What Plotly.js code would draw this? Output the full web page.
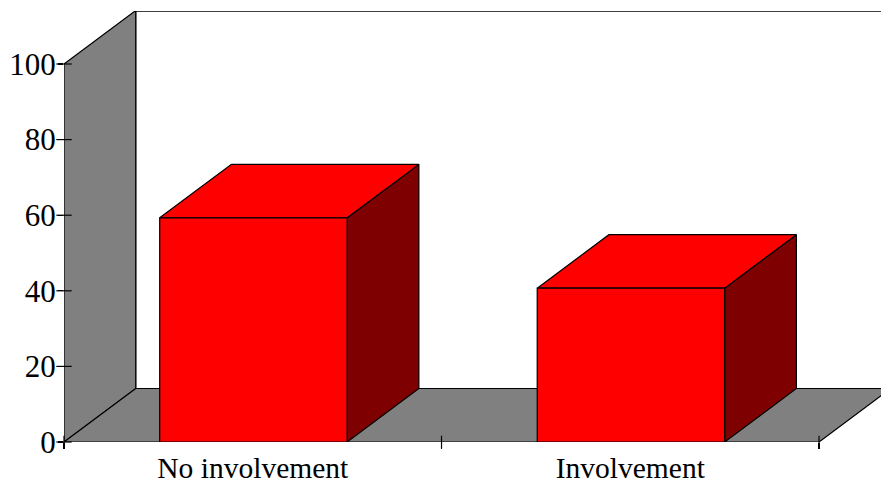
<!DOCTYPE html>
<html>
<head>
<meta charset="utf-8">
<script src="https://cdn.plot.ly/plotly-3.0.1.min.js"></script>
<style>html,body{margin:0;padding:0;background:#fff}#chart{width:881px;height:485px}</style>
</head>
<body>
<div id="chart"></div>
<script>
// Share of respondents per group
const categories = ["No involvement", "Involvement"];
const shares = [59.3, 40.7];
const yTicks = [0, 20, 40, 60, 80, 100];
const xBounds = [0, 1, 2];

// Oblique projection: how far the full depth shifts a point, in axis units
const depthX = 0.19;
const depthY = 14.15;
const barLeftGap = 0.2535;
const barWidth = 0.4965;
const xEnd = 817.5 / 377.75;
const yEnd = 431 / 3.78;

const GREY = "#808080", RED = "#ff0000", DARK = "#7f0000";
const EDGE = {color: "#000", width: 1.2};

function poly(xs, ys, fill) {
  return {
    type: "scatter", mode: "lines", x: xs.concat(xs[0]), y: ys.concat(ys[0]),
    fill: "toself", fillcolor: fill, line: EDGE,
    hoverinfo: "skip", showlegend: false
  };
}

const traces = [
  // back wall edges
  {type: "scatter", mode: "lines", x: [depthX, depthX, xEnd], y: [depthY, yEnd - 0.05, yEnd - 0.05],
   line: EDGE, hoverinfo: "skip", showlegend: false},
  // side wall
  poly([0, 0, depthX, depthX], [0, 100, 100 + depthY, depthY], GREY),
  // floor
  poly([0, depthX, 2 + depthX, 2], [0, depthY, depthY, 0], GREY)
];

// One box per category: side face, top face, front face
shares.forEach((v, i) => {
  const l = i + barLeftGap, r = l + barWidth;
  traces.push(poly([r, r + depthX, r + depthX, r], [0, depthY, v + depthY, v], DARK));
  traces.push(poly([l, l + depthX, r + depthX, r], [v, v + depthY, v + depthY, v], RED));
  traces.push(poly([l, r, r, l], [0, 0, v, v], RED));
});

// Tick marks that cross the axis lines
traces.push({
  type: "scatter", mode: "markers", cliponaxis: false,
  x: yTicks.map(() => 0), y: yTicks,
  marker: {symbol: "line-ew-open", size: 11, color: "#000", line: {color: "#000", width: 1.2}},
  hoverinfo: "skip", showlegend: false
});
traces.push({
  type: "scatter", mode: "markers", cliponaxis: false,
  x: xBounds, y: xBounds.map(() => 0),
  marker: {symbol: "line-ns-open", size: 9, color: "#000", line: {color: "#000", width: 1.2}},
  hoverinfo: "skip", showlegend: false
});

const font = {family: '"Liberation Serif", "Times New Roman", serif', color: "#000"};

const layout = {
  width: 881, height: 485,
  margin: {l: 63.5, r: 0, t: 11, b: 43, pad: 0},
  paper_bgcolor: "#fff", plot_bgcolor: "#fff",
  showlegend: false,
  xaxis: {
    range: [0, xEnd], showgrid: false, zeroline: false, showline: false, fixedrange: true,
    tickmode: "array", tickvals: [0.5, 1.5], ticktext: categories, ticks: "",
    ticklabelstandoff: 5,
    tickfont: Object.assign({size: 29.5}, font),
    minor: {tickmode: "array", tickvals: xBounds, ticks: "outside", ticklen: 6, tickcolor: "#000", tickwidth: 1.2, showgrid: false}
  },
  yaxis: {
    range: [0, yEnd], showgrid: false, zeroline: false, showline: false, fixedrange: true,
    tickmode: "array", tickvals: yTicks, ticks: "outside", ticklen: 5, tickcolor: "#000", tickwidth: 1.2,
    ticklabelstandoff: -4,
    tickfont: Object.assign({size: 31}, font)
  }
};

Plotly.newPlot("chart", traces, layout, {displayModeBar: false, staticPlot: true});
</script>
</body>
</html>
